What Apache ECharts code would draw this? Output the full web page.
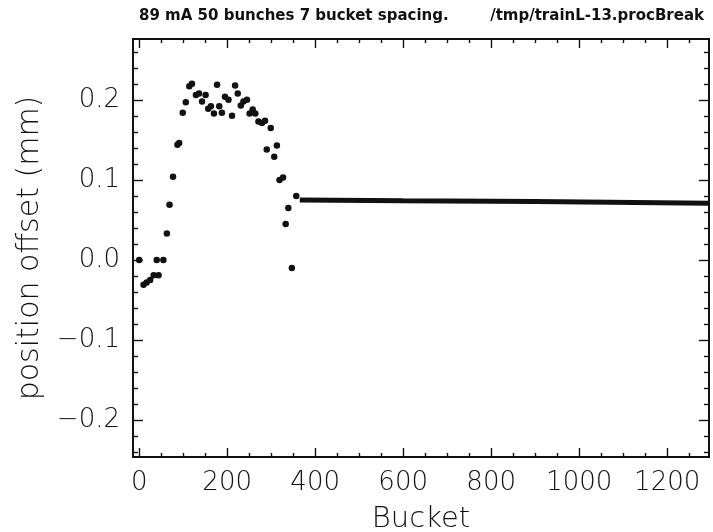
<!DOCTYPE html>
<html>
<head>
<meta charset="utf-8">
<script src="https://cdn.jsdelivr.net/npm/echarts@6/dist/echarts.min.js"></script>
<style>html,body{margin:0;padding:0;background:#fff}#c{width:713px;height:532px}</style>
</head>
<body>
<div id="c"></div>
<script>
// ---- data ----
const titleLeft = "89 mA 50 bunches 7 bucket spacing.";
const titleRight = "/tmp/trainL-13.procBreak";
const xName = "Bucket";
const yName = "position offset (mm)";
const xTickLabels = [0, 200, 400, 600, 800, 1000, 1200];
const xMinorTicks = [50,100,150,250,300,350,450,500,550,650,700,750,850,900,950,1050,1100,1150,1250];
const yTickLabels = [-0.2, -0.1, 0.0, 0.1, 0.2];
const yMinorTicks = [-0.24,-0.22,-0.18,-0.16,-0.14,-0.12,-0.08,-0.06,-0.04,-0.02,0.02,0.04,0.06,0.08,0.12,0.14,0.16,0.18,0.22,0.24,0.26];
// bunch train points (bucket, offset in mm)
const bunchBuckets = [0,10,17,25,33,40,44,55,63,69,77,87,91,99,106,114,120,129,136,143,151,157,163,170,177,182,188,195,203,211,218,224,231,237,245,251,258,264,271,279,286,290,299,307,313,319,327,333,339,347,357];
const bunchValues  = [0.000,-0.031,-0.028,-0.025,-0.019,0.000,-0.019,0.000,0.033,0.069,0.104,0.144,0.146,0.184,0.197,0.217,0.220,0.206,0.208,0.198,0.206,0.189,0.192,0.183,0.219,0.192,0.184,0.204,0.200,0.180,0.218,0.208,0.193,0.198,0.200,0.183,0.188,0.183,0.173,0.171,0.174,0.138,0.165,0.129,0.143,0.100,0.103,0.045,0.065,-0.010,0.080];
// dense flat tail of empty buckets (drawn as a thick trace)
const tailBuckets = [365, 600, 900, 1295];
const tailValues  = [0.075, 0.074, 0.073, 0.071];

const font = "DejaVu Sans";
const ink = '#111';
const chart = echarts.init(document.getElementById('c'), null, {renderer: 'canvas'});
const xMin = -14, xMax = 1295, yMin = -0.246, yMax = 0.276;
const box = {left: 133, right: 4, top: 39, bottom: 75, containLabel: false, outerBoundsMode: 'none'};
function xAx(grid, pos, ticks, len, labels, extra) {
  return Object.assign({
    type: 'value', gridIndex: grid, position: pos, min: xMin, max: xMax,
    axisLine: {show: true, onZero: false, lineStyle: {color: ink, width: 1.8}},
    axisTick: {show: true, inside: true, length: len, customValues: ticks, lineStyle: {color: ink, width: 1.4}},
    axisLabel: labels ? {show: true, customValues: labels, fontFamily: font, fontSize: 26, color: ink, margin: 13, fontWeight: 300,
      formatter: v => String(v)} : {show: false},
    splitLine: {show: false}
  }, extra || {});
}
function yAx(grid, pos, ticks, len, labels, extra) {
  return Object.assign({
    type: 'value', gridIndex: grid, position: pos, min: yMin, max: yMax,
    axisLine: {show: true, onZero: false, lineStyle: {color: ink, width: 1.8}},
    axisTick: {show: true, inside: true, length: len, customValues: ticks, lineStyle: {color: ink, width: 1.4}},
    axisLabel: labels ? {show: true, customValues: labels, fontFamily: font, fontSize: 26, color: ink, margin: 13, fontWeight: 300,
      formatter: v => v.toFixed(1).replace('-', '\u2212')} : {show: false},
    splitLine: {show: false}
  }, extra || {});
}
const option = {
  backgroundColor: '#fff',
  animation: false,
  title: [
    {text: titleLeft, left: 134, top: 4, textStyle: {fontFamily: font, fontSize: 15, fontWeight: 'bold', color: ink}},
    {text: titleRight, right: 4, top: 4, textStyle: {fontFamily: font, fontSize: 15, fontWeight: 'bold', color: ink}}
  ],
  grid: [Object.assign({}, box), Object.assign({}, box), Object.assign({}, box), Object.assign({}, box)],
  xAxis: [
    xAx(0, 'bottom', xTickLabels, 9, xTickLabels, {name: xName, nameLocation: 'middle', nameGap: 48, nameTextStyle: {fontFamily: font, fontSize: 29, fontWeight: 300, color: ink}}),
    xAx(1, 'top', xTickLabels, 9, null),
    xAx(2, 'bottom', xMinorTicks, 4, null),
    xAx(3, 'top', xMinorTicks, 4, null)
  ],
  yAxis: [
    yAx(0, 'left', yTickLabels, 10, yTickLabels, {name: yName, nameLocation: 'middle', nameGap: 88, nameTextStyle: {fontFamily: font, fontSize: 30, fontWeight: 300, color: ink}}),
    yAx(1, 'right', yTickLabels, 10, null),
    yAx(2, 'left', yMinorTicks, 5, null),
    yAx(3, 'right', yMinorTicks, 5, null)
  ],
  series: [
    {type: 'scatter', xAxisIndex: 0, yAxisIndex: 0, symbol: 'circle', symbolSize: 6.5,
     itemStyle: {color: ink, opacity: 1}, data: bunchBuckets.map((b, i) => [b, bunchValues[i]])},
    {type: 'line', xAxisIndex: 0, yAxisIndex: 0, showSymbol: false, symbol: 'none',
     lineStyle: {color: ink, width: 5}, data: tailBuckets.map((b, i) => [b, tailValues[i]])}
  ]
};
chart.setOption(option);
</script>
</body>
</html>
